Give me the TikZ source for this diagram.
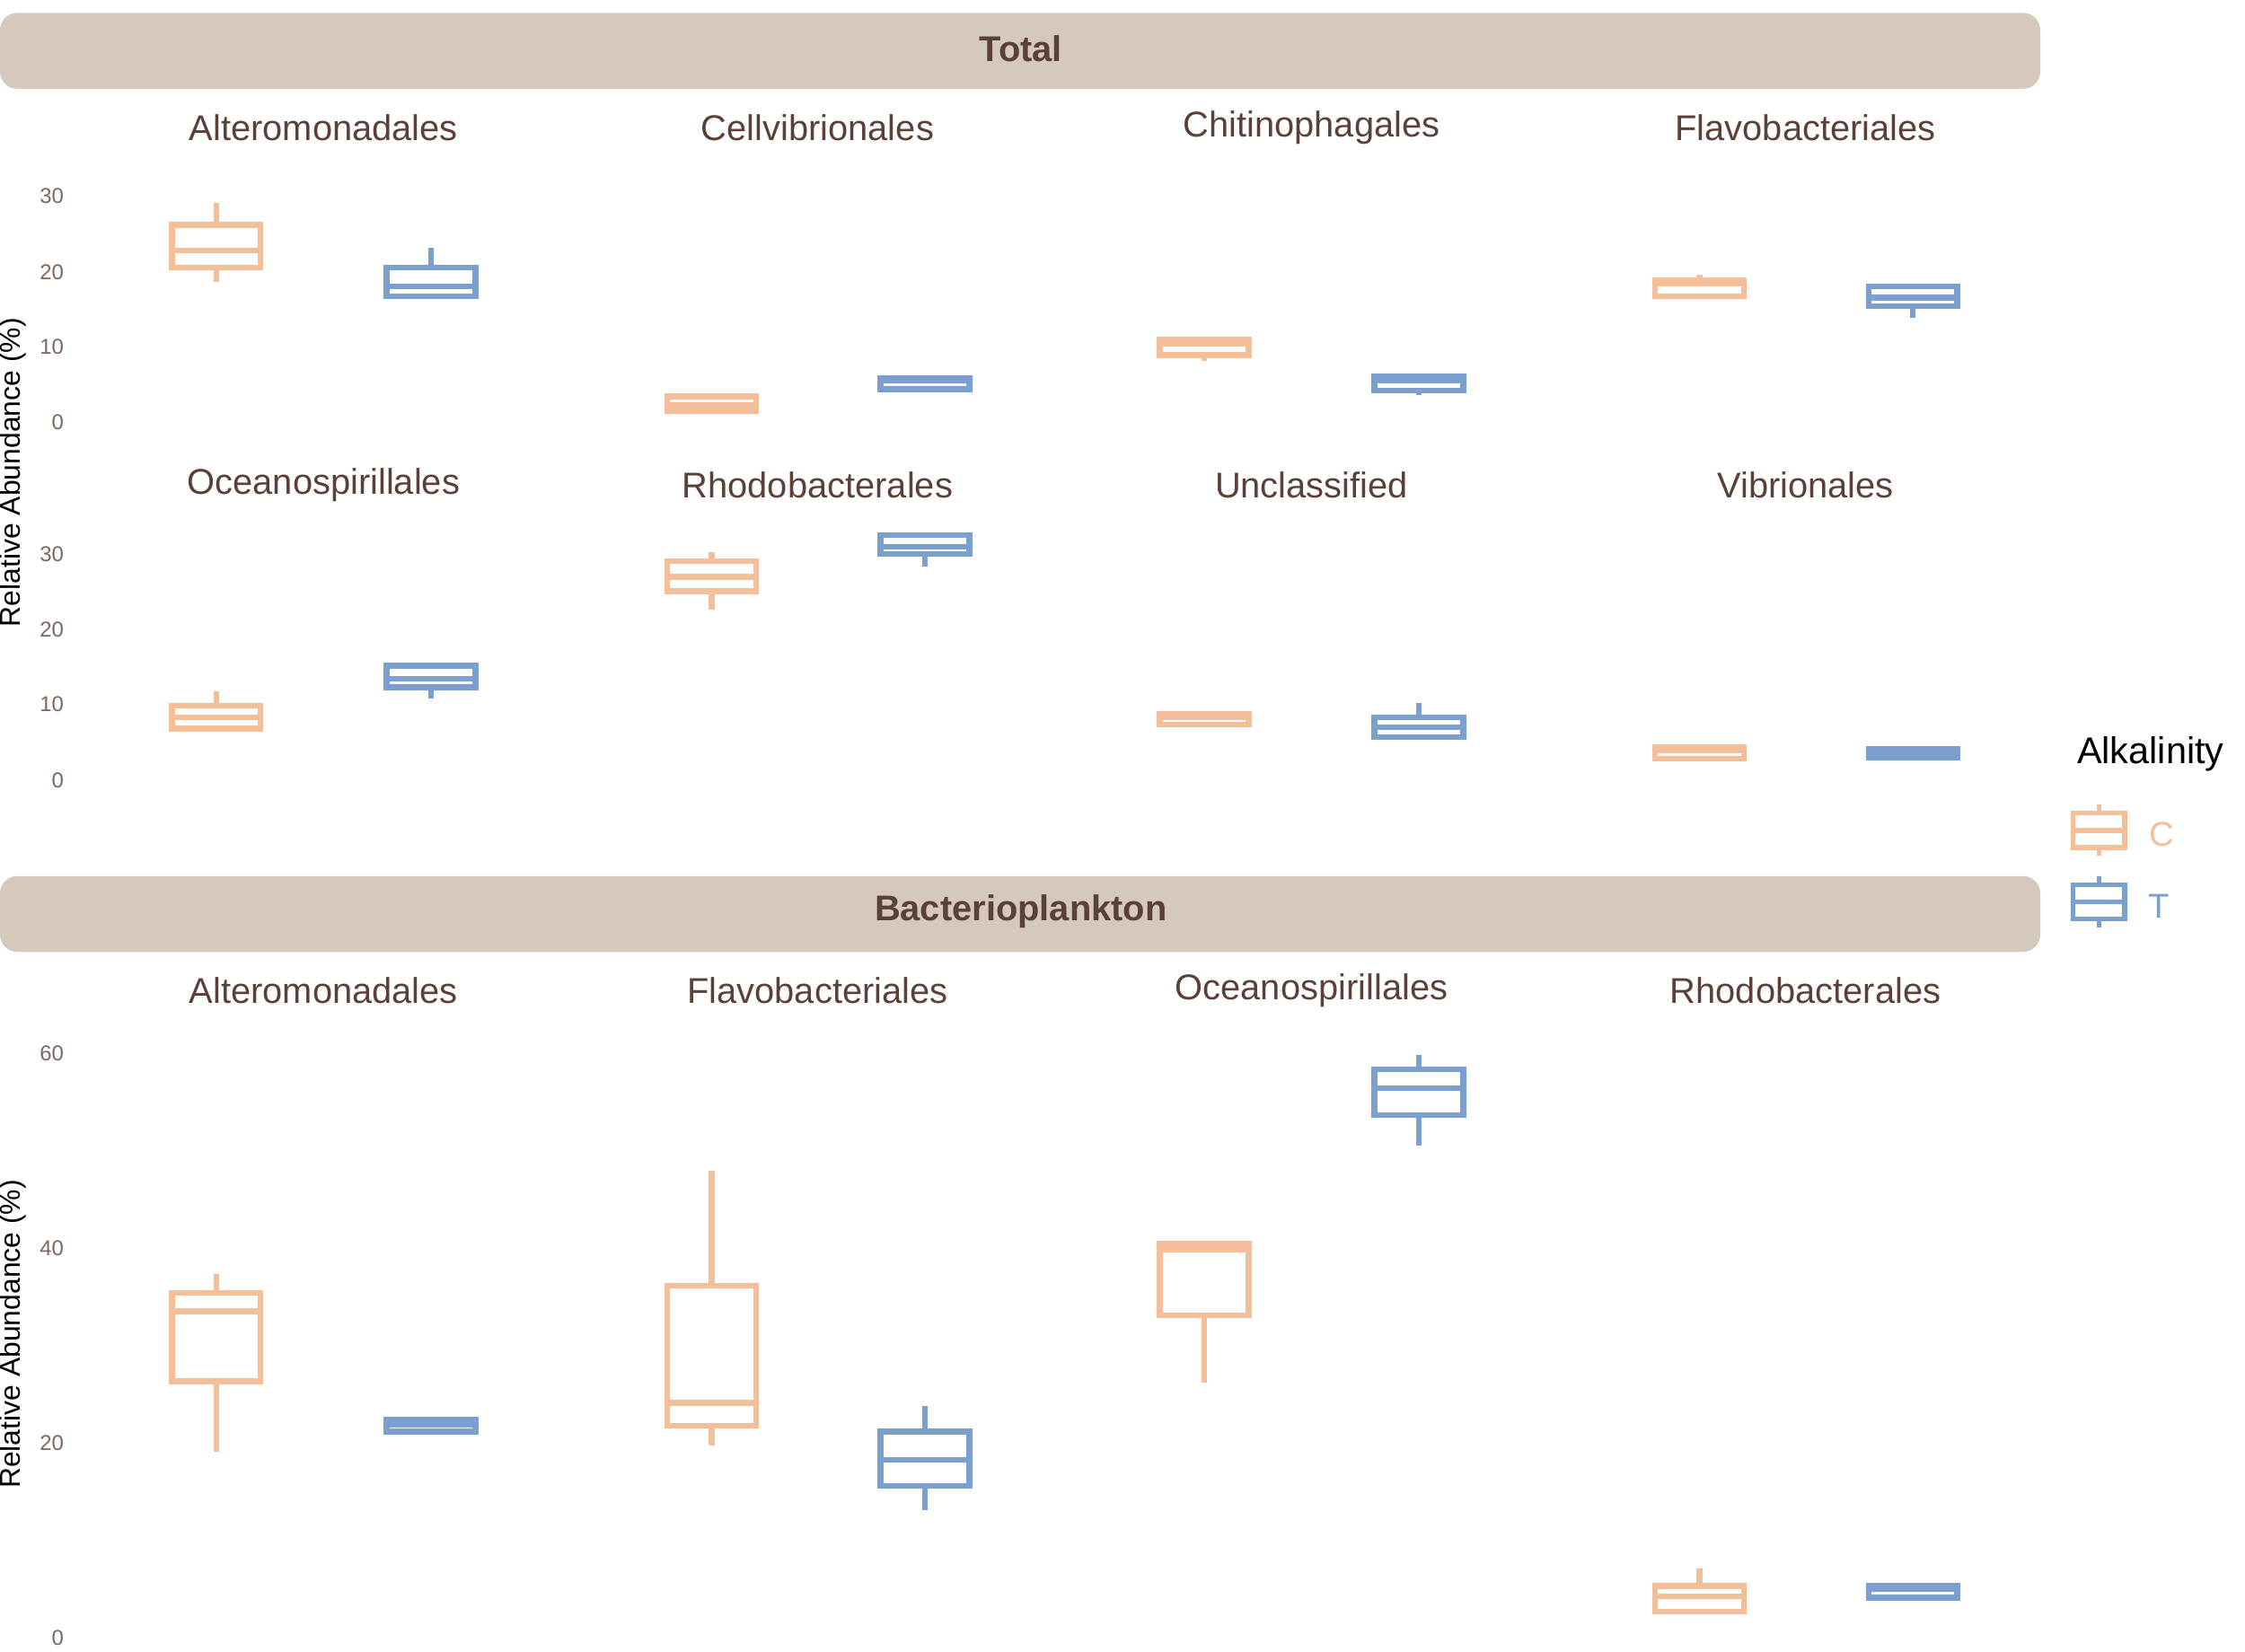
\documentclass[tikz,border=0pt]{standalone}
\usepackage{fontspec}
\setmainfont{Liberation Sans}
\definecolor{cc}{HTML}{F4BE98}
\definecolor{tc}{HTML}{7BA0D0}
\definecolor{strip}{HTML}{D5C8BC}
\definecolor{ttl}{HTML}{5A4038}
\newcommand{\bpx}[7]{% center, wmin, q3top, med, q1bot, wmax, colour
  \draw[#7,line width=4pt] (#1,#2) -- (#1,#3) (#1,#5) -- (#1,#6);
  \draw[#7,line width=4pt,fill=white] (#1-31,#3) rectangle (#1+31,#5);
  \draw[#7,line width=4pt] (#1-31,#4) -- (#1+31,#4);}
\begin{document}
\begin{tikzpicture}[x=1pt,y=-1pt,
  ptitle/.style={font=\fontsize{25}{28}\selectfont,text=ttl},
  tick/.style={font=\fontsize{15}{17}\selectfont,text=ttl!80,anchor=east},
  ylab/.style={font=\fontsize{20}{22}\selectfont,rotate=90},
  stripb/.style={fill=strip,rounded corners=12pt},
  striptext/.style={font=\fontsize{25}{28}\selectfont\bfseries,text=ttl}]
\useasboundingbox (0,0) rectangle (1568,1154);
% strips
\fill[stripb] (0,9) rectangle (1425,62);
\node[striptext] (s1) at (713,34) {Total};
\fill[stripb] (0,612) rectangle (1425,665);
\node[striptext] (s2) at (713,637) {Bacterioplankton};
% titles
\foreach \x/\t [count=\i] in {226/Alteromonadales,571/Cellvibrionales,916/Chitinophagales,1261/Flavobacteriales}
  \node[ptitle] (ta\i) at (\x,89) {\t};
\foreach \x/\t [count=\i] in {226/Oceanospirillales,571/Rhodobacterales,916/Unclassified,1261/Vibrionales}
  \node[ptitle] (tb\i) at (\x,339) {\t};
\foreach \x/\t [count=\i] in {226/Alteromonadales,571/Flavobacteriales,916/Oceanospirillales,1261/Rhodobacterales}
  \node[ptitle] (tc\i) at (\x,692) {\t};
% ticks
\foreach \y/\l in {137/30,190/20,242/10,295/0,387/30,440/20,492/10,545/0}
  \node[tick] at (48,\y) {\l};
\foreach \y/\l in {736/60,872/40,1008/20,1144/0}
  \node[tick] at (48,\y) {\l};
\node[ylab] (y1) at (9,330) {Relative Abundance (\%)};
\node[ylab] (y2) at (9,932) {Relative Abundance (\%)};
% row 1
\bpx{151}{197}{157}{175}{187}{142}{cc}
\bpx{301}{208}{187}{200}{207}{173}{tc}
\bpx{497}{288}{277}{283}{287}{275}{cc}
\bpx{646}{272}{264}{266}{272}{264}{tc}
\bpx{841}{252}{237}{240}{248}{237}{cc}
\bpx{991}{276}{263}{266}{273}{263}{tc}
\bpx{1187}{207}{196}{198}{207}{192}{cc}
\bpx{1336}{222}{200}{208}{214}{199}{tc}
% row 2
\bpx{151}{509}{493}{501}{509}{483}{cc}
\bpx{301}{488}{465}{474}{480}{464}{tc}
\bpx{497}{426}{392}{403}{413}{386}{cc}
\bpx{646}{396}{374}{382}{387}{374}{tc}
\bpx{841}{506}{499}{501}{506}{499}{cc}
\bpx{991}{516}{501}{508}{515}{491}{tc}
\bpx{1187}{530}{522}{524}{530}{520}{cc}
\bpx{1336}{529}{523}{525}{529}{523}{tc}
% bottom
\bpx{151}{1014}{903}{916}{965}{890}{cc}
\bpx{301}{1000}{992}{995}{1000}{992}{tc}
\bpx{497}{1010}{898}{980}{996}{818}{cc}
\bpx{646}{1055}{1000}{1020}{1038}{982}{tc}
\bpx{841}{966}{869}{873}{919}{869}{cc}
\bpx{991}{800}{747}{760}{779}{737}{tc}
\bpx{1187}{1128}{1108}{1115}{1126}{1096}{cc}
\bpx{1336}{1116}{1108}{1110}{1116}{1108}{tc}
% legend
\node[font=\fontsize{26}{28}\selectfont] (lg) at (1502,527) {Alkalinity};
\draw[cc,line width=3.5pt] (1466,562)--(1466,598);
\draw[cc,line width=3.5pt,fill=white] (1448,568) rectangle (1484,592);
\draw[cc,line width=3.5pt] (1448,580)--(1484,580);
\node[font=\fontsize{24}{26}\selectfont,text=cc] (lc) at (1510,583) {C};
\draw[tc,line width=3.5pt] (1466,612)--(1466,648);
\draw[tc,line width=3.5pt,fill=white] (1448,618) rectangle (1484,642);
\draw[tc,line width=3.5pt] (1448,630)--(1484,630);
\node[font=\fontsize{24}{26}\selectfont,text=tc] (lt) at (1508,633) {T};
\end{tikzpicture}
\end{document}
